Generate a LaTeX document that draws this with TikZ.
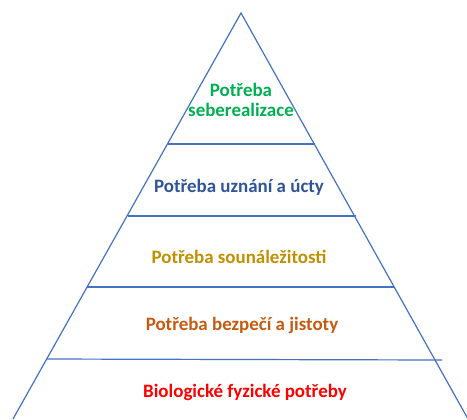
\documentclass[tikz,border=0pt]{standalone}
\usepackage{fontspec}
\setmainfont{Carlito}
\definecolor{lineblue}{HTML}{4472C4}
\definecolor{selfgreen}{HTML}{00B050}
\definecolor{esteemblue}{HTML}{2F5597}
\definecolor{lovegold}{HTML}{BF9000}
\definecolor{safeorange}{HTML}{C55A11}
\definecolor{bodyred}{HTML}{FF0000}
\begin{document}
\begin{tikzpicture}[
    x=0.75pt, y=-0.75pt,
    edge/.style={draw=lineblue, line width=0.9pt},
    level/.style={font=\bfseries\fontsize{14.2}{14.5}\selectfont, align=center}
]
    \useasboundingbox (0,0) rectangle (467,419);

    % Pyramid outline
    \coordinate (apex) at (241,13);
    \coordinate (baseL) at (13,419);
    \coordinate (baseR) at (468,419);
    \draw[edge] (baseL) -- (apex) -- (baseR);

    % Level dividers
    \draw[edge] (168,144) -- (315,144);
    \draw[edge] (128,216) -- (356,216);
    \draw[edge] (87,287) -- (394,287);
    \draw[edge] (47,359) -- (442,360);

    % Labels
    \node[level, text=selfgreen] (self) at (241,100) {Potřeba\\seberealizace};
    \node[level, text=esteemblue] (esteem) at (239,187) {Potřeba uznání a úcty};
    \node[level, text=lovegold] (love) at (239,257) {Potřeba sounáležitosti};
    \node[level, text=safeorange] (safety) at (242,325) {Potřeba bezpečí a jistoty};
    \node[level, text=bodyred] (body) at (245,392) {Biologické fyzické potřeby};
\end{tikzpicture}
\end{document}
